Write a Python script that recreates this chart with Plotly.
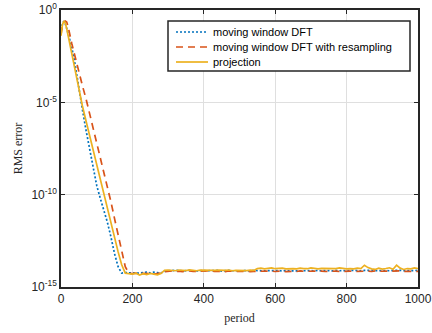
import plotly.graph_objects as go

# Period samples (shared by all three methods)
period = [0, 4, 8, 12, 16, 20] + list(range(30, 1001, 10))

# RMS error stored as negative base-10 exponents: error = 10**(-e)
dft_exp = (
    # 0, 4, 8, 12, 16, 20, 30 ... 160
    [1.3, 0.75, 0.6, 0.75, 1.0, 1.3, 2.0, 3.0, 4.3, 5.4,
     6.5, 7.5, 8.5, 9.5, 10.2, 10.8, 11.5, 12.3, 13.2, 13.9]
    # 170 ... 200
    + [14.25, 14.22, 14.23, 14.2]
    # 210 ... 300
    + [14.22, 14.25, 14.22, 14.2, 14.24, 14.2, 14.22, 14.24, 14.15, 14.12]
    # 310 ... 400
    + [14.1, 14.12, 14.1, 14.13, 14.11, 14.1, 14.14, 14.12, 14.1, 14.11]
    # 410 ... 500
    + [14.13, 14.1, 14.12, 14.1, 14.14, 14.11, 14.1, 14.12, 14.13, 14.1]
    # 510 ... 600
    + [14.12, 14.11, 14.14, 14.1, 14.12, 14.1, 14.13, 14.11, 14.1, 14.12]
    # 610 ... 700
    + [14.11, 14.14, 14.1, 14.12, 14.11, 14.1, 14.13, 14.12, 14.1, 14.11]
    # 710 ... 800
    + [14.13, 14.1, 14.12, 14.1, 14.11, 14.13, 14.1, 14.12, 14.11, 14.1]
    # 810 ... 900
    + [14.12, 14.1, 14.11, 14.13, 14.1, 14.12, 14.1, 14.11, 14.12, 14.1]
    # 910 ... 1000
    + [14.11, 14.12, 14.1, 14.12, 14.1, 14.11, 14.12, 14.1, 14.11, 14.1]
)
resamp_exp = (
    [1.3, 0.8, 0.65, 0.6, 0.65, 0.9, 1.8, 2.6, 3.3, 4.1,
     4.8, 5.6, 6.4, 7.1, 7.9, 8.7, 9.5, 10.4, 11.3, 12.2]
    + [13.0, 13.9, 14.25, 14.28]
    + [14.25, 14.3, 14.26, 14.28, 14.25, 14.3, 14.27, 14.25, 14.17, 14.15]
    + [14.13, 14.16, 14.14, 14.17, 14.15, 14.13, 14.16, 14.15, 14.14, 14.17]
    + [14.15, 14.13, 14.16, 14.14, 14.15, 14.17, 14.13, 14.15, 14.16, 14.14]
    + [14.15, 14.13, 14.17, 14.15, 14.14, 14.16, 14.13, 14.15, 14.14, 14.16]
    + [14.15, 14.13, 14.17, 14.14, 14.15, 14.16, 14.13, 14.15, 14.14, 14.16]
    + [14.13, 14.15, 14.14, 14.16, 14.15, 14.13, 14.14, 14.16, 14.15, 14.13]
    + [14.14, 14.16, 14.15, 14.13, 14.15, 14.14, 14.16, 14.13, 14.15, 14.14]
    + [14.16, 14.13, 14.15, 14.14, 14.13, 14.15, 14.14, 14.16, 14.13, 14.15]
)
proj_exp = (
    [1.4, 0.8, 0.6, 0.7, 1.0, 1.4, 2.3, 3.4, 4.4, 5.2,
     6.0, 6.8, 7.6, 8.4, 9.2, 10.0, 10.7, 11.5, 12.3, 13.1]
    + [13.8, 14.25, 14.28, 14.3]
    + [14.25, 14.35, 14.28, 14.33, 14.26, 14.3, 14.34, 14.27, 14.1, 14.08]
    + [14.1, 14.12, 14.08, 14.1, 14.11, 14.07, 14.1, 14.12, 14.09, 14.1]
    + [14.08, 14.12, 14.1, 14.09, 14.11, 14.1, 14.08, 14.12, 14.1, 14.11]
    + [14.1, 14.11, 14.09, 14.1, 14.0, 13.98, 14.02, 14.0, 13.97, 14.01]
    + [14.0, 13.98, 14.02, 13.99, 14.0, 14.02, 13.98, 14.0, 14.01, 13.97]
    + [14.0, 14.02, 13.99, 14.0, 13.98, 14.02, 14.0, 13.97, 14.0, 14.02]
    + [14.0, 14.02, 13.98, 14.0, 13.82, 13.95, 14.02, 14.05, 13.98, 14.03]
    + [14.0, 13.96, 14.04, 13.82, 13.98, 14.05, 14.0, 14.02, 13.97, 14.0]
)

names = ["moving window DFT", "moving window DFT with resampling", "projection"]
colors = ["#0072BD", "#D95319", "#EDB120"]
dashes = ["2px,2px", "7px,5px", "solid"]
series_exp = [dft_exp, resamp_exp, proj_exp]

fig = go.Figure()
for name, exps, color, dash in zip(names, series_exp, colors, dashes):
    fig.add_trace(go.Scatter(
        x=period,
        y=[10 ** (-e) for e in exps],
        mode="lines",
        name=name,
        showlegend=False,
        line=dict(color=color, width=1.7, dash=dash),
    ))

axis_color = "#262626"
tick_font = dict(family="Liberation Sans, Arial, sans-serif", size=12, color=axis_color)
title_font = dict(family="Liberation Serif, Times New Roman, serif", size=12, color=axis_color)

common_axis = dict(
    showgrid=True, gridcolor="#DFDFDF", gridwidth=1,
    showline=True, linecolor=axis_color, linewidth=1.5, mirror="allticks",
    ticks="inside", ticklen=4, tickcolor=axis_color,
    tickfont=tick_font, zeroline=False, automargin=False,
)
fig.update_xaxes(
    range=[0, 1000],
    tickvals=[0, 200, 400, 600, 800, 1000],
    title=dict(text="period", font=title_font, standoff=8),
    **common_axis,
)
fig.update_yaxes(
    type="log",
    range=[-15, 0],
    tickvals=[1e-15, 1e-10, 1e-5, 1],
    ticktext=["10<sup>-15</sup>", "10<sup>-10</sup>", "10<sup>-5</sup>", "10<sup>0</sup>"],
    title=dict(text="RMS error", font=title_font, standoff=6),
    **common_axis,
)

# Legend box drawn in paper coordinates of the plot area
L, R, T, B = 61, 14, 10, 46
W, H = 432 - L - R, 333 - T - B


def px(x):
    return (x - L) / W


def py(y):
    return (333 - B - y) / H


shapes = [dict(
    type="rect", xref="paper", yref="paper",
    x0=px(168), x1=px(410), y0=py(71), y1=py(21),
    line=dict(color=axis_color, width=1.5), fillcolor="white", layer="above",
)]
annotations = []
row_y = [32, 47, 62]
for name, color, dash, ry in zip(names, colors, dashes, row_y):
    shapes.append(dict(
        type="line", xref="paper", yref="paper",
        x0=px(176), x1=px(208), y0=py(ry), y1=py(ry),
        line=dict(color=color, width=1.7, dash=dash), layer="above",
    ))
    annotations.append(dict(
        text=name, xref="paper", yref="paper",
        x=px(211), y=py(ry), xanchor="left", yanchor="middle",
        showarrow=False,
        font=dict(family="Liberation Sans, Arial, sans-serif", size=11, color="black"),
    ))

fig.update_layout(
    width=432, height=333,
    margin=dict(l=L, r=R, t=T, b=B),
    paper_bgcolor="white", plot_bgcolor="white",
    shapes=shapes, annotations=annotations,
)

fig.write_html("out.html")
